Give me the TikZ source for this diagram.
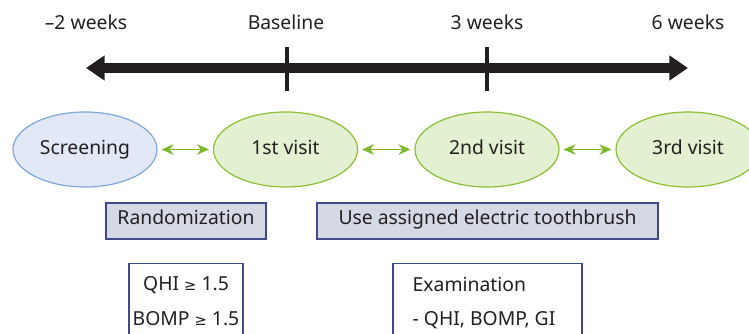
\documentclass[tikz,border=0pt]{standalone}
\usepackage{fontspec}
\setmainfont{Noto Sans}
\newfontfamily\symfont{DejaVu Sans}
\newcommand{\geqsym}{{\symfont\fontsize{11}{13}\selectfont ≥}}
\usetikzlibrary{arrows.meta,shapes.geometric}
\definecolor{ellblue}{HTML}{E2E8F5}
\definecolor{ellbluedraw}{HTML}{7FA7DA}
\definecolor{ellgreen}{HTML}{E4F0D2}
\definecolor{ellgreendraw}{HTML}{8CC034}
\definecolor{arrgreen}{HTML}{7DB928}
\definecolor{boxfill}{HTML}{D5D9E6}
\definecolor{boxdraw}{HTML}{3F4A8C}
\definecolor{txt}{HTML}{231F20}
\begin{document}
\begin{tikzpicture}[x=0.75pt,y=-0.75pt,
  every node/.style={font=\fontsize{14.5}{17}\selectfont, text=txt},
  lbl/.style={inner sep=0pt},
  visitbase/.style={ellipse, line width=0.9pt, minimum width=144*0.75pt, minimum height=75*0.75pt, inner sep=0pt, text height=0.72em, text depth=0em},
  visitblue/.style={visitbase, draw=ellbluedraw, fill=ellblue},
  visitgreen/.style={visitbase, draw=ellgreendraw, fill=ellgreen},
  link/.style={arrgreen, line width=1.1pt, {Stealth[length=9pt,width=8pt]}-{Stealth[length=9pt,width=8pt]}, shorten >=3pt, shorten <=3pt},
  phase/.style={rectangle, draw=boxdraw, fill=boxfill, line width=0.9pt, minimum height=36*0.75pt, inner sep=0pt, text height=0.75em, text depth=0.22em},
  crit/.style={rectangle, draw=boxdraw, fill=white, line width=0.9pt, inner sep=0pt},
  tick/.style={line width=3pt, draw=txt}
]
\useasboundingbox (0,0) rectangle (749,334);
\clip (0,0) rectangle (749,334);
% timeline
\coordinate (tm) at (287,68);
\coordinate (tl) at (86,68);
\coordinate (tr) at (688,68);
\draw[line width=7pt, draw=txt, -{Triangle[length=14pt,width=18pt]}] (tm) -- (tr);
\draw[line width=7pt, draw=txt, -{Triangle[length=14pt,width=18pt]}] (tm) -- (tl);
\coordinate (b1) at (287,47); \coordinate (b2) at (287,91);
\coordinate (c1) at (487,47); \coordinate (c2) at (487,91);
\draw[tick] (b1) -- (b2);
\draw[tick] (c1) -- (c2);
% labels
\node[lbl] (l0) at (86,22) {–2 weeks};
\node[lbl] (l1) at (286,22) {Baseline};
\node[lbl] (l2) at (487,22) {3 weeks};
\node[lbl] (l3) at (688,22) {6 weeks};
% visits
\node[visitblue] (scr) at (85,149.5) {Screening};
\node[visitgreen] (v1) at (285.5,149.5) {1st visit};
\node[visitgreen] (v2) at (487,149.5) {2nd visit};
\node[visitgreen] (v3) at (688,149.5) {3rd visit};
\draw[link] (scr) -- (v1);
\draw[link] (v1) -- (v2);
\draw[link] (v2) -- (v3);
% phases
\node[phase, minimum width=160*0.75pt] (rand) at (186,221) {Randomization};
\node[phase, minimum width=341*0.75pt] (use) at (487.5,221) {Use assigned electric toothbrush};
% criteria boxes
\node[crit, minimum width=114*0.75pt, minimum height=90*0.75pt, anchor=north] (qhi) at (186,263) {};
\node[align=center, font=\fontsize{14.5}{26}\selectfont] (qhit) at (186,301) {QHI \geqsym\ 1.5\\BOMP \geqsym\ 1.5};
\node[crit, minimum width=189*0.75pt, minimum height=90*0.75pt, anchor=north] (exam) at (487.5,263) {};
\node[align=left, anchor=west, font=\fontsize{14.5}{26}\selectfont] (examt) at (408,303) {Examination\\- QHI, BOMP, GI};
\end{tikzpicture}
\end{document}
